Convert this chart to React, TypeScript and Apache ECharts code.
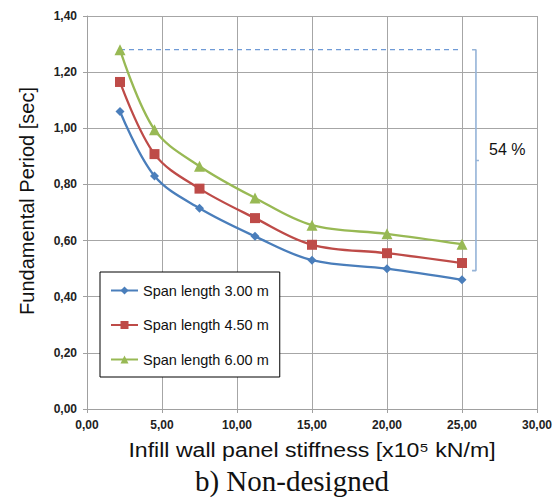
import React, { useEffect, useRef } from "react";
import * as echarts from "echarts";

const stiffness = [2.2, 4.5, 7.5, 11.2, 15, 20, 25];
const span300 = [1.06, 0.83, 0.715, 0.615, 0.53, 0.5, 0.46];
const span450 = [1.165, 0.908, 0.785, 0.68, 0.585, 0.555, 0.52];
const span600 = [1.28, 0.995, 0.865, 0.752, 0.655, 0.624, 0.587];
const seriesNames = ["Span length 3.00 m", "Span length 4.50 m", "Span length 6.00 m"];
const refLevel = [[2.2, 1.28], [25, 1.28]];
const bracket = [[25.67, 1.28], [25.93, 1.28], [25.93, 0.493], [25.67, 0.493]];
const bracketMid = [[25.93, 0.885], [26.13, 0.885]];
const annotation = "54 %";

const fmt = (v: number) => v.toFixed(2).replace(".", ",");

export default function App() {
  const ref = useRef<HTMLDivElement>(null);
  useEffect(() => {
    const chart = echarts.init(ref.current!, undefined, { renderer: "svg" });
    const pair = (ys: number[]) => stiffness.map((x, i) => [x, ys[i]]);
    const lineSeries = (name: string, ys: number[], color: string, symbol: string, size: number) => ({
      name,
      type: "line",
      data: pair(ys),
      smooth: 0.35,
      symbol,
      symbolSize: size,
      showAllSymbol: true,
      lineStyle: { color, width: 2.3 },
      itemStyle: { color },
      z: 3,
    });
    const tickLabel = { formatter: fmt, fontFamily: "Liberation Sans", fontWeight: "bold", fontSize: 12, color: "#222", margin: 10 };
    chart.setOption({
      animation: false,
      grid: { left: 87, right: 23, top: 16, bottom: 91, containLabel: false },
      xAxis: {
        type: "value",
        min: 0,
        max: 30,
        interval: 5,
        axisLine: { show: true, lineStyle: { color: "#a0a0a0" } },
        axisTick: { show: true, length: 4, lineStyle: { color: "#a0a0a0" } },
        splitLine: { show: true, lineStyle: { color: "#a6a6a6", width: 1 } },
        axisLabel: tickLabel,
      },
      yAxis: {
        type: "value",
        min: 0,
        max: 1.4,
        interval: 0.2,
        axisLine: { show: true, lineStyle: { color: "#a0a0a0" } },
        axisTick: { show: true, length: 4, lineStyle: { color: "#a0a0a0" } },
        splitLine: { show: true, lineStyle: { color: "#a6a6a6", width: 1 } },
        axisLabel: tickLabel,
      },
      legend: {
        data: seriesNames,
        orient: "vertical",
        left: 100,
        top: 272,
        itemGap: 19.5,
        itemWidth: 27,
        itemHeight: 10,
        padding: [11, 11, 10, 10],
        borderColor: "#000",
        borderWidth: 1,
        backgroundColor: "#fff",
        textStyle: { fontFamily: "Liberation Sans", fontSize: 14.5, color: "#111" },
      },
      series: [
        lineSeries(seriesNames[0], span300, "#4a7ebb", "diamond", 9),
        lineSeries(seriesNames[1], span450, "#be4b48", "rect", 10),
        lineSeries(seriesNames[2], span600, "#98b954", "triangle", 11),
        {
          type: "line",
          data: refLevel,
          symbol: "none",
          lineStyle: { color: "#6f9ad6", width: 1.2, type: [5, 4] },
          z: 2,
          silent: true,
        },
        {
          type: "line",
          data: bracket,
          symbol: "none",
          lineStyle: { color: "#95b3d7", width: 1.6 },
          z: 2,
          silent: true,
        },
        {
          type: "line",
          data: bracketMid,
          symbol: "none",
          lineStyle: { color: "#95b3d7", width: 1.6 },
          z: 2,
          silent: true,
        },
      ],
      graphic: [
        {
          type: "text",
          x: 489,
          y: 149,
          style: { text: annotation, font: "16px 'Liberation Sans'", fill: "#111", textVerticalAlign: "middle" },
        },
        {
          type: "text",
          x: 27,
          y: 201,
          rotation: Math.PI / 2,
          style: { text: "Fundamental Period [sec]", font: "20px 'Liberation Sans'", fill: "#111", textAlign: "center", textVerticalAlign: "middle" },
        },
        {
          type: "text",
          x: 312,
          y: 450,
          scaleX: 1.1,
          style: { text: "Infill wall panel stiffness [x10\u2075 kN/m]", font: "21px 'Liberation Sans'", fill: "#111", textAlign: "center", textVerticalAlign: "middle" },
        },
        {
          type: "text",
          x: 292,
          y: 481,
          style: { text: "b) Non-designed", font: "29px 'Liberation Serif'", fill: "#111", textAlign: "center", textVerticalAlign: "middle" },
        },
      ],
    });
    return () => chart.dispose();
  }, []);
  return <div ref={ref} style={{ width: 560, height: 500, position: "absolute", left: 0, top: 0 }} />;
}
